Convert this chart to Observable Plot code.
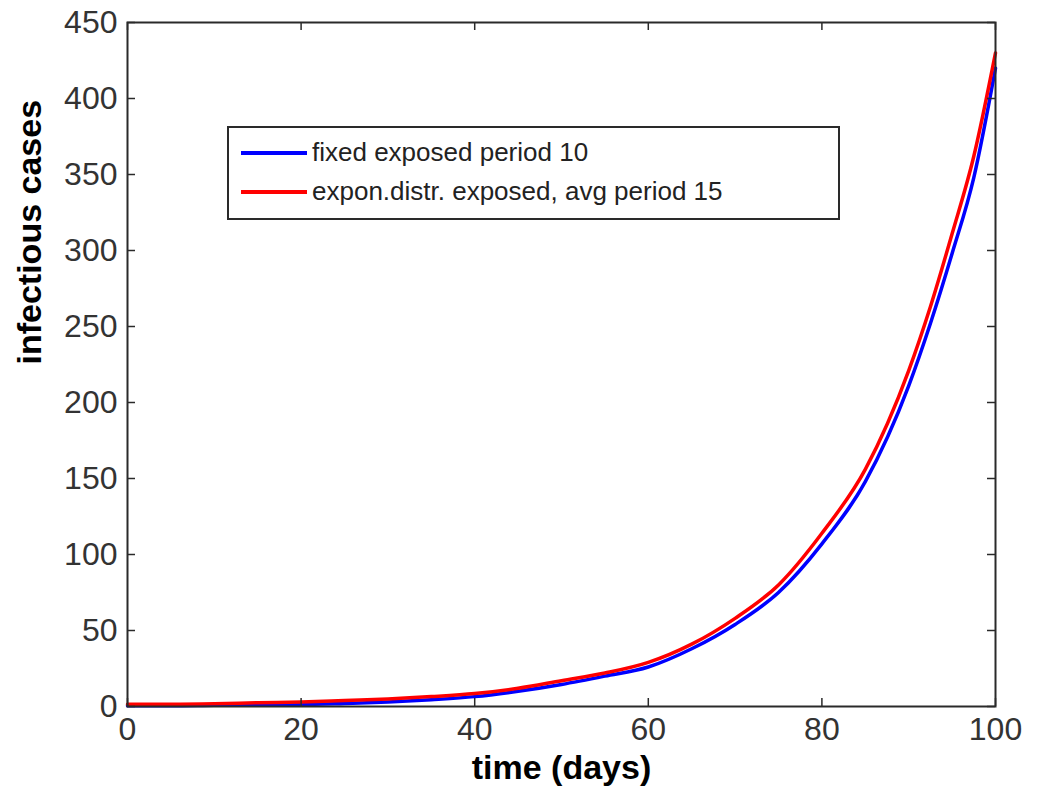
<!DOCTYPE html>
<html>
<head>
<meta charset="utf-8">
<script src="https://cdn.jsdelivr.net/npm/d3@7"></script>
<script src="https://cdn.jsdelivr.net/npm/@observablehq/plot@0.6"></script>
<style>
  html, body { margin: 0; padding: 0; background: #fff; }
  #wrap { position: relative; width: 1038px; height: 793px; font-family: "Liberation Sans", Arial, sans-serif; }
  #legend { position: absolute; left: 227px; top: 126px; width: 609px; height: 90px; border: 2px solid #2a2a2a; background: #fff; }
  .sw { position: absolute; left: 12px; width: 66px; height: 3.5px; }
  .lbl { position: absolute; left: 83px; font-size: 26px; color: #222; white-space: nowrap; line-height: 30px; }
</style>
</head>
<body>
<div id="wrap"></div>
<script>
const days = [0,5,10,15,20,25,30,35,40,45,50,55,60,65,70,75,80,85,90,92.5,95,97.5,100];
const fixedSeries = [0.5,0.5,0.8,1,1.2,2,3,4.5,6.5,10,14.5,20,26,38,54,75,107,148,211,252,298,348,420];
const exponSeries = [1.5,1.5,1.8,2.5,3,4,5,6.5,8.5,12,17,22,29,41,58,80,114,156,221,263,311,362,430];
const seriesNames = ["fixed exposed period 10", "expon.distr. exposed, avg period 15"];
const seriesColors = ["#0000ff", "#ff0000"];
const xTicks = [0,20,40,60,80,100];
const yTicks = [0,50,100,150,200,250,300,350,400,450];
const xLabel = "time (days)";
const yLabel = "infectious cases";

const rows = [];
days.forEach((d, i) => rows.push({t: d, v: fixedSeries[i], s: seriesNames[0]}));
days.forEach((d, i) => rows.push({t: d, v: exponSeries[i], s: seriesNames[1]}));

const W = 1038, H = 793;
const mL = 127, mR = 43, mT = 22, mB = 87;
const innerH = H - mT - mB, innerW = W - mL - mR;
const axisColor = "#2a2a2a";

const chart = Plot.plot({
  width: W, height: H,
  marginLeft: mL, marginRight: mR, marginTop: mT, marginBottom: mB,
  style: {fontFamily: "'Liberation Sans', Arial, sans-serif", color: "#333", background: "#fff"},
  x: {domain: [0, 100]},
  y: {domain: [0, 450]},
  color: {domain: seriesNames, range: seriesColors},
  marks: [
    Plot.line(rows, {x: "t", y: "v", stroke: "s", z: "s", strokeWidth: 3.5, curve: "monotone-x"}),
    Plot.tickX(xTicks, {x: d => d, insetTop: innerH - 8, stroke: axisColor, strokeWidth: 1.5}),
    Plot.tickX(xTicks, {x: d => d, insetBottom: innerH - 8, stroke: axisColor, strokeWidth: 1.5}),
    Plot.tickY(yTicks, {y: d => d, insetRight: innerW - 8, stroke: axisColor, strokeWidth: 1.5}),
    Plot.tickY(yTicks, {y: d => d, insetLeft: innerW - 8, stroke: axisColor, strokeWidth: 1.5}),
    Plot.frame({stroke: axisColor, strokeWidth: 2}),
    Plot.axisX({ticks: xTicks, tickSize: 0, tickPadding: 11, fontSize: 32, label: null, fill: "#333"}),
    Plot.axisY({ticks: yTicks, tickSize: 0, tickPadding: 10, fontSize: 32, label: null, fill: "#333"}),
    Plot.text([xLabel], {text: d => d, frameAnchor: "bottom", dy: 72, fontSize: 34, fontWeight: "bold", fill: "#000"}),
    Plot.text([yLabel], {text: d => d, frameAnchor: "left", dx: -97, rotate: -90, fontSize: 34, fontWeight: "bold", fill: "#000"})
  ]
});

const wrap = document.getElementById("wrap");
wrap.appendChild(chart);

const legend = document.createElement("div");
legend.id = "legend";
seriesNames.forEach((name, i) => {
  const top = i === 0 ? 9 : 48;
  const sw = document.createElement("div");
  sw.className = "sw";
  sw.style.top = (top + 14) + "px";
  sw.style.background = seriesColors[i];
  const lb = document.createElement("div");
  lb.className = "lbl";
  lb.style.top = top + "px";
  lb.textContent = name;
  legend.appendChild(sw);
  legend.appendChild(lb);
});
wrap.appendChild(legend);
</script>
</body>
</html>
